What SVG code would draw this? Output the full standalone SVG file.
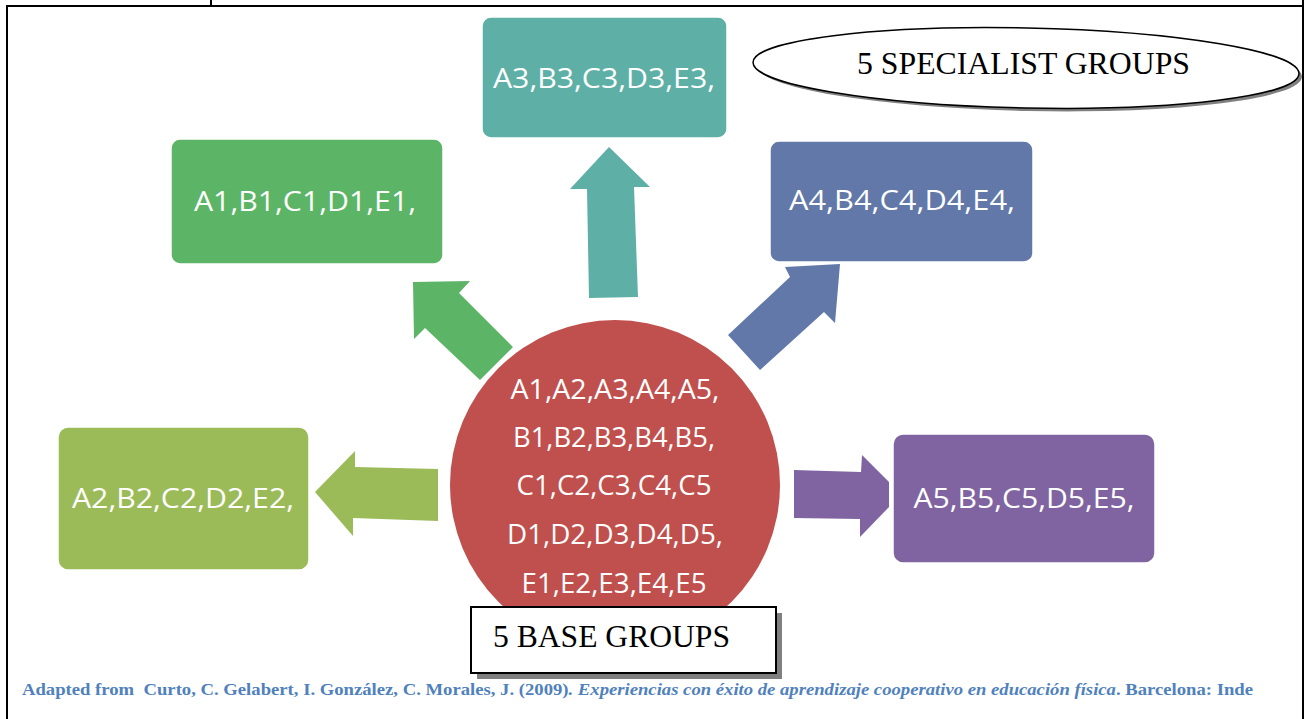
<svg xmlns="http://www.w3.org/2000/svg" width="1307" height="719" viewBox="0 0 1307 719">
<style>
.box{stroke:#ffffff;stroke-width:1.5}
.bt{font-family:"Open Sans","Liberation Sans",sans-serif;font-size:28px;fill:#ffffff;text-anchor:middle}
.ct{font-family:"Open Sans","Liberation Sans",sans-serif;font-size:28px;fill:#ffffff;text-anchor:middle}
.tt{font-family:"Liberation Serif","Times New Roman",serif;font-size:31px;fill:#000000}
.border{stroke:#000000;stroke-width:2;fill:none}
</style>
<rect width="1307" height="719" fill="#ffffff"/>
<g id="frame">
<line class="border" x1="7" y1="6" x2="1303" y2="6"/>
<line class="border" x1="7" y1="5" x2="7" y2="719"/>
<line class="border" x1="1303" y1="0" x2="1303" y2="719"/>
<line class="border" x1="211" y1="0" x2="211" y2="6"/>
</g>
<g id="connectors">
<polygon points="413,282 470,281 459,293 513,347 480,380 425,328 414,339" fill="#5cb566"/>
<polygon points="609,147 650,187 634,187 638,297 589,298 587,189 570,189" fill="#5eafa6"/>
<polygon points="785,267 840,264 835,323 824,312 760,370 728,335 790,277" fill="#6178a9"/>
<polygon points="438,469 355,467 355,451 315,492 353,536 353,518 438,521" fill="#9bbb59"/>
<polygon points="794,470 861,472 862,455 889,482 889,507 860,537 860,519 794,518" fill="#8064a2"/>
</g>
<g id="node-a3">
<rect class="box" x="482" y="17" width="245" height="121" rx="9" fill="#5eafa6"/>
<text class="bt" x="604" y="88" textLength="222" lengthAdjust="spacingAndGlyphs">A3,B3,C3,D3,E3,</text>
</g>
<g id="node-a1">
<rect class="box" x="171" y="139" width="272" height="125" rx="9" fill="#5cb566"/>
<text class="bt" x="305" y="211" textLength="222" lengthAdjust="spacingAndGlyphs">A1,B1,C1,D1,E1,</text>
</g>
<g id="node-a4">
<rect class="box" x="770" y="141" width="263" height="121" rx="9" fill="#6178a9"/>
<text class="bt" x="902" y="210" textLength="226" lengthAdjust="spacingAndGlyphs">A4,B4,C4,D4,E4,</text>
</g>
<g id="node-a2">
<rect class="box" x="58" y="427" width="251" height="143" rx="10" fill="#9bbb59"/>
<text class="bt" x="183" y="508" textLength="222" lengthAdjust="spacingAndGlyphs">A2,B2,C2,D2,E2,</text>
</g>
<g id="node-a5">
<rect class="box" x="893" y="434" width="262" height="129" rx="10" fill="#8064a2"/>
<text class="bt" x="1024" y="508" textLength="221" lengthAdjust="spacingAndGlyphs">A5,B5,C5,D5,E5,</text>
</g>
<g id="node-base">
<circle cx="615" cy="485" r="165" fill="#c0504d"/>
<text class="ct" x="615" y="399" textLength="209" lengthAdjust="spacingAndGlyphs">A1,A2,A3,A4,A5,</text>
<text class="ct" x="614" y="447" textLength="202" lengthAdjust="spacingAndGlyphs">B1,B2,B3,B4,B5,</text>
<text class="ct" x="614" y="495" textLength="195" lengthAdjust="spacingAndGlyphs">C1,C2,C3,C4,C5</text>
<text class="ct" x="615" y="544" textLength="216" lengthAdjust="spacingAndGlyphs">D1,D2,D3,D4,D5,</text>
<text class="ct" x="614" y="593" textLength="185" lengthAdjust="spacingAndGlyphs">E1,E2,E3,E4,E5</text>
</g>
<g id="label-specialist">
<ellipse cx="1029" cy="71" rx="273" ry="40" fill="#808080" transform="rotate(1.2 1029 71)"/>
<ellipse cx="1026" cy="68" rx="273" ry="40" fill="#ffffff" stroke="#000000" stroke-width="1.5" transform="rotate(1.2 1026 68)"/>
<text class="tt" x="857" y="74" textLength="333" lengthAdjust="spacingAndGlyphs">5 SPECIALIST GROUPS</text>
</g>
<g id="label-base">
<rect x="477" y="613" width="305" height="66" fill="#808080"/>
<rect x="471" y="607" width="305" height="66" fill="#ffffff" stroke="#000000" stroke-width="2"/>
<text class="tt" x="493" y="647" textLength="237" lengthAdjust="spacingAndGlyphs">5 BASE GROUPS</text>
</g>
<g id="caption">
<text x="22" y="695" font-family="'Liberation Serif','Times New Roman',serif" font-size="17.5" font-weight="bold" fill="#4f81bd" textLength="1231" lengthAdjust="spacingAndGlyphs">Adapted from&#160; Curto, C. Gelabert, I. González, C. Morales, J. (2009)<tspan font-style="italic">. Experiencias con éxito de aprendizaje cooperativo en educación física</tspan>. Barcelona: Inde</text>
</g>
</svg>
